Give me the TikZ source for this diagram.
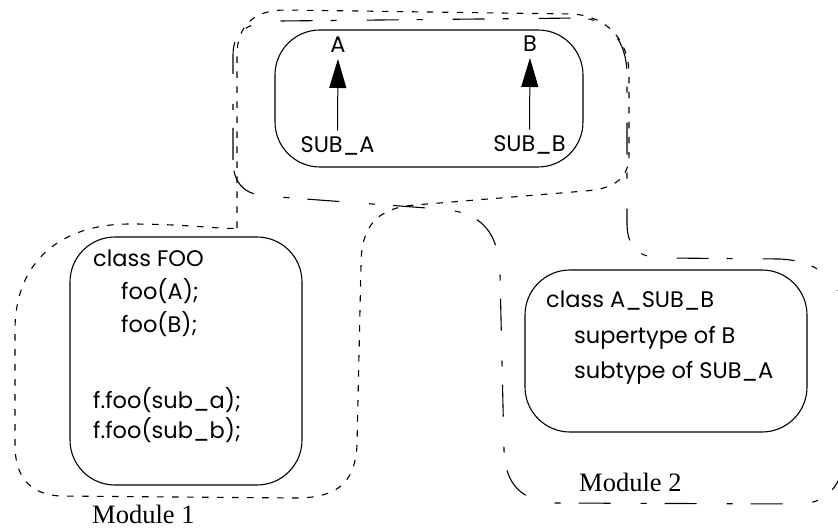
\documentclass[tikz,border=0pt]{standalone}
\usepackage{fontspec}
\setmainfont{Poppins}
\newfontfamily\serifmod{Liberation Serif}
\usetikzlibrary{arrows.meta}
\begin{document}
\begin{tikzpicture}[x=1pt,y=-1pt,
  box/.style={draw, line width=1.1pt, rounded corners=45pt, inner sep=0pt},
  code/.style={anchor=base west, inner sep=0pt, font=\fontsize{22.5}{26}\selectfont},
  lbl/.style={inner sep=0pt, outer sep=6pt, anchor=base, font=\fontsize{22.5}{26}\selectfont},
  modname/.style={anchor=base west, inner sep=0pt, text depth=0pt, font=\serifmod\fontsize{26.5}{30}\selectfont},
  gen/.style={-{Triangle[length=29pt,width=17pt]}, line width=1pt},
  modone/.style={line width=1.1pt, dash pattern=on 6.5pt off 8.5pt},
  modtwo/.style={line width=1.1pt, dash pattern=on 32pt off 18pt on 6pt off 30pt}]
\useasboundingbox (0,0) rectangle (838,529);
\clip (0,0) rectangle (838,529);

% class boxes
\node[box, minimum width=308pt, minimum height=137pt] (supers) at (429,98.5) {};
\node[box, minimum width=232pt, minimum height=248pt] (foo) at (186,361) {};
\node[box, minimum width=282pt, minimum height=162pt] (asubb) at (666,351) {};

% supertype / subtype pairs
\node[lbl] (a) at (338,53) {A};
\node[lbl] (b) at (530,52) {B};
\node[lbl] (suba) at (337.5,152.5) {SUB\_A};
\node[lbl] (subb) at (529.5,151.5) {SUB\_B};
\draw[gen] (suba) -- (a);
\draw[gen] (subb) -- (b);

% class FOO
\node[code] (foo1) at (93,267) {class FOO};
\node[code] (foo2) at (121,300) {foo(A);};
\node[code] (foo3) at (121,332) {foo(B);};
\node[code] (foo4) at (93,408) {f.foo(sub\_a);};
\node[code] (foo5) at (93,438) {f.foo(sub\_b);};

% class A_SUB_B
\node[code] (ab1) at (546,308) {class A\_SUB\_B};
\node[code] (ab2) at (574,343) {supertype of B};
\node[code] (ab3) at (574,378) {subtype of SUB\_A};

% module outlines
\draw[modone] (237,228) -- (237,55) .. controls (237,25) and (255,10) .. (285,10)
  -- (572,14) .. controls (607,16) and (629,40) .. (629,75)
  -- (629,155) .. controls (629,180) and (612,189) .. (585,191)
  -- (415,205) .. controls (378,208) and (361,225) .. (361,265)
  -- (357,445) .. controls (355,485) and (335,498) .. (295,498)
  -- (60,496) .. controls (28,494) and (15,475) .. (15,445)
  -- (15,330) .. controls (15,262) and (60,224) .. (130,224)
  .. controls (190,224) and (225,230) .. cycle;
\draw[modtwo] (233,160) -- (233,55) .. controls (233,30) and (250,21) .. (280,21)
  -- (580,18) .. controls (610,19) and (627,42) .. (627,75)
  -- (627,225) .. controls (628,250) and (640,258) .. (665,258)
  -- (780,259) .. controls (822,261) and (846,285) .. (846,325)
  -- (846,440) .. controls (846,482) and (830,503) .. (800,504)
  -- (555,503) .. controls (522,501) and (505,485) .. (504,450)
  -- (500,275) .. controls (499,232) and (482,212) .. (440,209)
  -- (265,196) .. controls (243,194) and (233,182) .. cycle;

% module names
\node[modname] (m1) at (92,523) {Module 1};
\node[modname] (m2) at (579,491) {Module 2};
\end{tikzpicture}
\end{document}
